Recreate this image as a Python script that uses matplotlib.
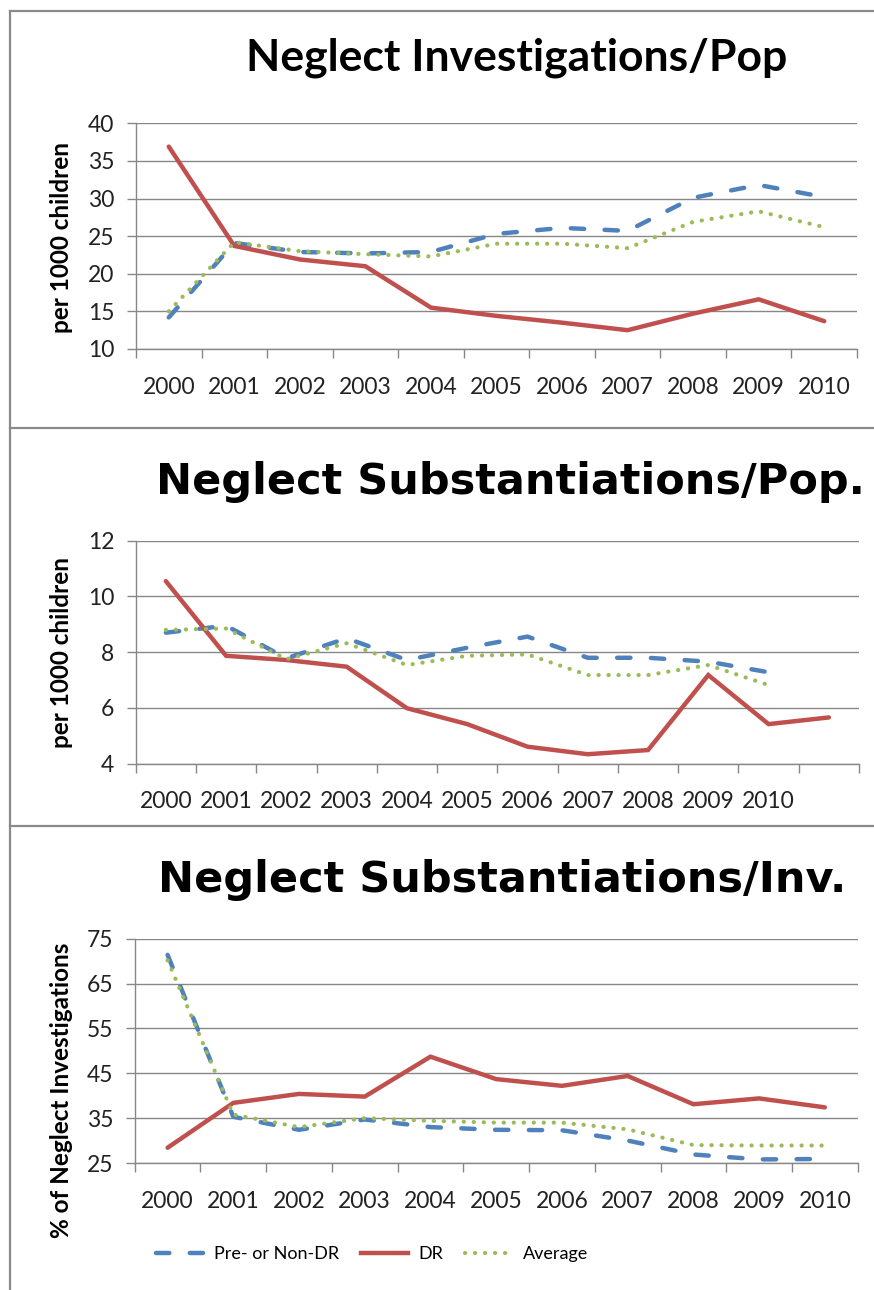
import numpy as np
import matplotlib.pyplot as plt
from matplotlib.lines import Line2D

plt.rcParams['font.family'] = ['Lato', 'DejaVu Sans']

# data
years = ['2000', '2001', '2002', '2003', '2004', '2005', '2006', '2007', '2008', '2009', '2010']

inv_nondr = [14.2, 24.1, 22.9, 22.7, 22.9, 25.3, 26.1, 25.7, 30.1, 31.8, 30.2]
inv_dr = [36.9, 23.7, 21.9, 21.0, 15.5, 14.4, 13.5, 12.5, 14.7, 16.6, 13.7]
inv_avg = [15.0, 24.2, 23.0, 22.6, 22.3, 24.0, 24.0, 23.4, 26.9, 28.3, 26.2]

sub_years = years + ['']
sub_nondr = [8.7, 8.95, 7.78, 8.5, 7.72, 8.16, 8.56, 7.8, 7.8, 7.66, 7.28]
sub_dr = [10.55, 7.87, 7.72, 7.48, 5.99, 5.42, 4.61, 4.34, 4.49, 7.18, 5.42, 5.66]
sub_avg = [8.8, 8.85, 7.75, 8.32, 7.54, 7.87, 7.92, 7.18, 7.18, 7.54, 6.82]

rate_nondr = [71.4, 35.3, 32.4, 34.7, 33.0, 32.4, 32.3, 30.0, 26.9, 25.8, 25.9]
rate_dr = [28.4, 38.4, 40.4, 39.8, 48.7, 43.7, 42.2, 44.4, 38.1, 39.4, 37.4]
rate_avg = [70.2, 35.8, 33.0, 35.0, 34.4, 34.0, 34.0, 32.5, 29.0, 28.9, 28.9]

BLUE = '#4F81BD'
RED = '#C0504D'
GREEN = '#9BBB59'
GRID = '#878787'

W, H = 874, 1290
fig = plt.figure(figsize=(W / 100, H / 100), dpi=100)


def px_box(left, top, right, bottom):
    return [left / W, 1 - bottom / H, (right - left) / W, (bottom - top) / H]


def draw_panel(box, cats, nondr, dr, avg, yticks):
    ax = fig.add_axes(px_box(*box))
    n = len(cats)
    ax.plot(range(len(nondr)), nondr, color=BLUE, lw=3.2, ls=(0, (3.0, 4.6)),
            dash_capstyle='round', solid_capstyle='round', zorder=3)
    ax.plot(range(len(dr)), dr, color=RED, lw=3.2, solid_capstyle='round',
            solid_joinstyle='miter', zorder=4)
    ax.plot(range(len(avg)), avg, color=GREEN, lw=3.0, ls=(0, (0.05, 2.35)),
            dash_capstyle='round', zorder=5)
    ax.set_xlim(-0.5, n - 0.5)
    ax.set_ylim(yticks[0], yticks[-1])
    ax.set_yticks(yticks)
    ax.set_xticks(np.arange(-0.5, n, 1.0))
    ax.set_xticklabels([])
    ax.set_xticks(np.arange(n), minor=True)
    ax.set_xticklabels(cats, minor=True)
    ax.tick_params(axis='x', which='minor', length=0, pad=20, labelsize=16.5,
                   labelcolor='#222222')
    ax.tick_params(axis='x', which='major', length=6.5, width=1.0, color=GRID)
    ax.tick_params(axis='y', length=6.5, width=1.0, color=GRID, pad=9,
                   labelsize=16.5, labelcolor='#222222')
    ax.grid(axis='y', color=GRID, lw=1.0)
    ax.set_axisbelow(True)
    for s in ['top', 'right']:
        ax.spines[s].set_visible(False)
    for s in ['left', 'bottom']:
        ax.spines[s].set_color(GRID)
        ax.spines[s].set_linewidth(1.0)
    return ax


ax1 = draw_panel((136, 123.3, 857, 349), years, inv_nondr, inv_dr, inv_avg,
                 [10, 15, 20, 25, 30, 35, 40])
ax2 = draw_panel((135.7, 540.7, 859, 763.7), sub_years, sub_nondr, sub_dr, sub_avg,
                 [4, 6, 8, 10, 12])
ax3 = draw_panel((134.7, 938.7, 857.7, 1163), years, rate_nondr, rate_dr, rate_avg,
                 [25, 35, 45, 55, 65, 75])

# titles
fig.text(516.5 / W, 1 - 71 / H, 'Neglect Investigations/Pop', ha='center',
         va='baseline', fontsize=32, fontweight='bold')
fig.text(510 / W, 1 - 494 / H, 'Neglect Substantiations/Pop.', ha='center',
         va='baseline', fontsize=31, fontweight='bold', family='DejaVu Sans')
fig.text(502.5 / W, 1 - 891.7 / H, 'Neglect Substantiations/Inv.', ha='center',
         va='baseline', fontsize=31, fontweight='bold', family='DejaVu Sans')

# y labels
fig.text(62 / W, 1 - 237.5 / H, 'per 1000 children', rotation=90, ha='center',
         va='center', fontsize=17.5, fontweight='bold')
fig.text(62 / W, 1 - 652 / H, 'per 1000 children', rotation=90, ha='center',
         va='center', fontsize=17.5, fontweight='bold')
fig.text(62 / W, 1 - 943 / H, '% of Neglect Investigations', rotation=90,
         ha='center', va='top', fontsize=17.5, fontweight='bold')

# panel borders
border = dict(color='#8a8a8a', lw=1.6, transform=fig.transFigure)
fig.add_artist(Line2D([9.5 / W, 9.5 / W], [1 - 11 / H, 0], **border))
for yb in [11, 428, 826]:
    fig.add_artist(Line2D([9.5 / W, 1], [1 - yb / H, 1 - yb / H], **border))

# legend
handles = [
    Line2D([], [], color=BLUE, lw=3.2, ls=(0, (3.0, 4.6)), dash_capstyle='round'),
    Line2D([], [], color=RED, lw=3.2),
    Line2D([], [], color=GREEN, lw=3.0, ls=(0, (0.05, 2.35)), dash_capstyle='round'),
]
fig.legend(handles, ['Pre- or Non-DR', 'DR', 'Average'], loc='center left',
           bbox_to_anchor=(140 / W, 1 - 1254 / H), ncol=3, frameon=False,
           fontsize=13, handlelength=2.6, handletextpad=0.6, columnspacing=1.2)

fig.savefig('out.png', dpi=100)
